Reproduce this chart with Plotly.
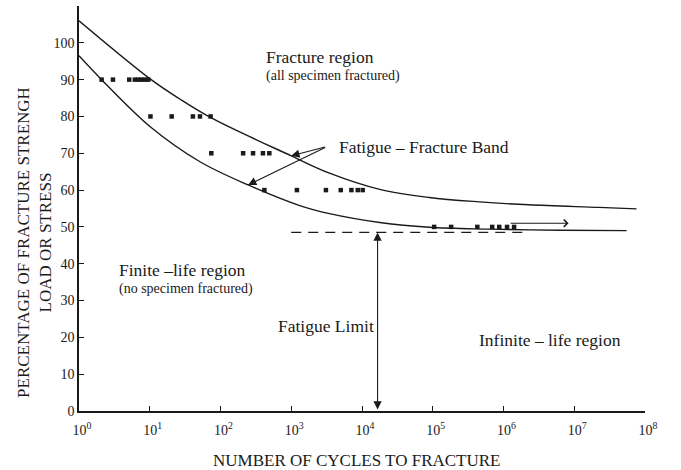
import numpy as np
import plotly.graph_objects as go

FONT = "Liberation Serif, Times New Roman, serif"
INK = "#1a1a1a"

# Band limits: decade exponent of cycles to fracture vs. percentage of fracture strength
upper_exp = [0.0, 1.02, 1.42, 1.87, 3.0, 3.54, 4.25, 4.95, 5.66, 6.36, 7.35, 7.88]
upper_pct = [106.0, 90.0, 84.8, 79.6, 69.3, 64.6, 60.2, 58.0, 56.8, 56.0, 55.3, 54.9]

lower_exp = [0.0, 0.32, 1.02, 1.71, 2.39, 3.12, 3.54, 4.25, 4.95, 5.8, 6.8, 7.74]
lower_pct = [96.5, 90.0, 77.0, 67.7, 61.4, 55.8, 53.6, 51.2, 49.9, 49.4, 49.1, 49.0]

# Test specimens, grouped by load level
rows_pct = [90, 80, 70, 60, 50]
rows_exp = [
    [0.32, 0.48, 0.71, 0.79, 0.84, 0.88, 0.93, 0.98],
    [1.01, 1.31, 1.61, 1.71, 1.86],
    [1.87, 2.32, 2.46, 2.60, 2.69],
    [2.62, 3.08, 3.49, 3.70, 3.85, 3.94, 4.01],
    [5.02, 5.26, 5.63, 5.84, 5.94, 6.05, 6.15],
]

fatigue_limit_pct = 48.5
fatigue_limit_exp = 4.22
limit_line_exp = [3.0, 6.3]

x_tick_exp = list(range(0, 9))
y_tick_vals = list(range(0, 111, 10))


def cycles(exps):
    return [10.0 ** e for e in exps]


fig = go.Figure()

for exps, pcts in [(upper_exp, upper_pct), (lower_exp, lower_pct)]:
    fig.add_trace(go.Scatter(
        x=cycles(exps), y=pcts, mode="lines",
        line=dict(color=INK, width=1.4, shape="spline", smoothing=1.0),
        hoverinfo="skip",
    ))

# fatigue limit, dashed
fig.add_trace(go.Scatter(
    x=cycles(limit_line_exp), y=[fatigue_limit_pct] * 2, mode="lines",
    line=dict(color=INK, width=1.3, dash="10px,7px"), hoverinfo="skip",
))

for pct, exps in zip(rows_pct, rows_exp):
    fig.add_trace(go.Scatter(
        x=cycles(exps), y=[pct] * len(exps), mode="markers",
        marker=dict(symbol="square", size=4.5, color=INK, line=dict(width=0)),
    ))

ann = []


def text(label, x, y, size, xanchor="left"):
    ann.append(dict(text=label, x=x, y=y, xref="x", yref="y", showarrow=False,
                    xanchor=xanchor, yanchor="middle",
                    font=dict(family=FONT, size=size, color=INK)))


def arrow(x, y, ax, ay, head=2, side="end", size=1.5):
    ann.append(dict(text="", x=x, y=y, ax=ax, ay=ay, xref="x", yref="y",
                    axref="x", ayref="y", showarrow=True, arrowhead=head,
                    startarrowhead=head, arrowside=side, arrowsize=size,
                    startarrowsize=size, arrowwidth=1.1, arrowcolor=INK,
                    standoff=0, startstandoff=0))


text("Fracture region", 2.61, 96.2, 17.5)
text("(all specimen fractured)", 2.61, 90.9, 14)
text("Fatigue \u2013 Fracture Band", 3.64, 71.7, 17.5)
text("Finite \u2013life region", 0.53, 38.3, 17.5)
text("(no specimen fractured)", 0.53, 33.2, 14)
text("Fatigue Limit", 4.20, 23.2, 17.5, xanchor="right")
text("Infinite \u2013 life region", 5.62, 19.3, 17.5)

# band pointers
arrow(3.0, 69.3, 3.50, 71.8)
arrow(2.39, 61.4, 3.50, 71.8)
# fatigue limit marker
arrow(fatigue_limit_exp, fatigue_limit_pct, fatigue_limit_exp, 0, side="end+start")
# run-out specimens
arrow(6.92, 51.0, 6.08, 51.0, head=4, size=1.3)

# axis titles
ann.append(dict(text="PERCENTAGE OF FRACTURE STRENGH<br>LOAD OR STRESS",
                xref="paper", yref="paper", x=0, y=0.415, xshift=-44,
                textangle=-90, showarrow=False, xanchor="center", yanchor="middle",
                font=dict(family=FONT, size=17, color=INK)))
ann.append(dict(text="NUMBER OF CYCLES TO FRACTURE",
                xref="paper", yref="paper", x=0.491, y=0, yshift=-49,
                showarrow=False, xanchor="center", yanchor="middle",
                font=dict(family=FONT, size=17, color=INK)))

fig.update_layout(
    width=681, height=470,
    margin=dict(l=79, r=36, t=6, b=59),
    paper_bgcolor="white", plot_bgcolor="white",
    showlegend=False,
    font=dict(family=FONT, size=14, color=INK),
    annotations=ann,
    xaxis=dict(
        type="log", range=[0, 8],
        tickvals=[10 ** e for e in x_tick_exp],
        ticktext=["10<sup>%d</sup>" % e for e in x_tick_exp],
        ticks="inside", ticklen=5, tickwidth=1.2, tickcolor=INK,
        showline=True, linecolor=INK, linewidth=1.6,
        showgrid=False, zeroline=False,
        ticklabelstandoff=5, ticklabelshift=3,
        tickfont=dict(family=FONT, size=14, color=INK),
    ),
    yaxis=dict(
        range=[0, 110],
        tickvals=y_tick_vals,
        ticktext=[str(v) if v <= 100 else "" for v in y_tick_vals],
        ticks="inside", ticklen=5, tickwidth=1.2, tickcolor=INK,
        showline=True, linecolor=INK, linewidth=1.6,
        showgrid=False, zeroline=False,
        tickfont=dict(family=FONT, size=14, color=INK),
    ),
)

fig.write_html("out.html")
